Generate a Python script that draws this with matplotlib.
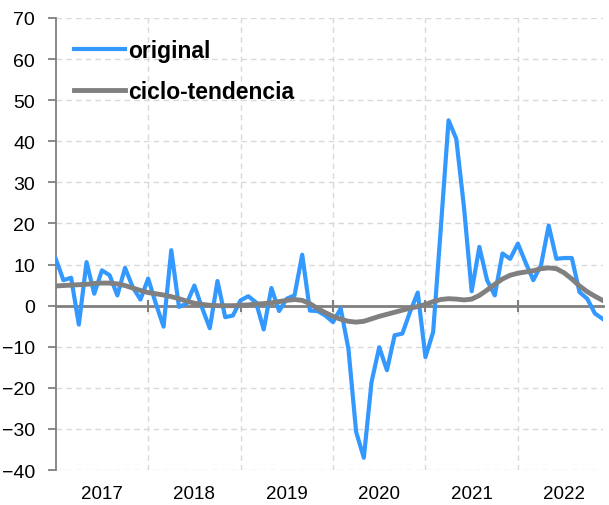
import numpy as np
import matplotlib.pyplot as plt

plt.rcParams.update({"font.family": ["Liberation Sans", "DejaVu Sans"], "font.size": 12})
BLUE = "#3399ff"; GREY = "#808080"; GRID = "#d9d9d9"

# monthly series, Jan 2017 - Dec 2022
years = ["2017", "2018", "2019", "2020", "2021", "2022"]
original = [
    11.4, 6.2, 6.8, -4.6, 10.6, 2.9, 8.6, 7.4, 2.5, 9.2, 4.5, 1.5,
    6.6, 0.5, -5.1, 13.5, -0.3, 0.5, 4.9, -0.5, -5.5, 6.0, -2.8, -2.4,
    1.3, 2.3, 0.8, -5.8, 4.3, -1.3, 1.7, 2.5, 12.4, -1.2, -1.3, -2.4,
    -4.0, -0.7, -10.5, -30.7, -37.0, -18.6, -10.1, -15.7, -7.2, -6.8, -1.5, 3.2,
    -12.5, -6.4, 19.0, 45.1, 40.6, 24.0, 3.5, 14.3, 6.2, 2.5, 12.7, 11.4,
    15.1, 10.5, 6.2, 9.8, 19.5, 11.4, 11.6, 11.6, 3.3, 1.7, -1.9, -3.2,
]
trend = [
    4.8, 4.9, 5.0, 5.1, 5.2, 5.4, 5.5, 5.5, 5.3, 4.9, 4.3, 3.7,
    3.2, 2.9, 2.6, 2.2, 1.7, 1.1, 0.6, 0.3, 0.1, 0.0, 0.0, 0.0,
    0.1, 0.2, 0.4, 0.5, 0.7, 1.0, 1.3, 1.5, 1.3, 0.5, -0.7, -1.7,
    -2.6, -3.3, -3.8, -4.0, -3.8, -3.2, -2.6, -2.1, -1.6, -1.1, -0.6, -0.2,
    0.3, 1.0, 1.5, 1.7, 1.6, 1.4, 1.6, 2.5, 3.8, 5.2, 6.5, 7.4,
    7.9, 8.2, 8.5, 9.0, 9.2, 9.0, 8.0, 6.5, 4.8, 3.4, 2.3, 1.3,
]

x = np.arange(len(original))
fig = plt.figure(figsize=(6.09, 5.06), dpi=100)
ax = fig.add_axes([0.0915, 0.069, 0.898, 0.8935])

ax.set_xlim(0, len(original) - 1)
ax.set_ylim(-40, 70)
ax.set_yticks(np.arange(-40, 71, 10))

# grid: dashed light grey, vertical lines at year boundaries
for yv in np.arange(-40, 71, 10):
    if yv != 0:
        ax.axhline(yv, color=GRID, ls=(0, (4, 3)), lw=1, zorder=0)
for k in range(1, len(years)):
    ax.axvline(12 * k, color=GRID, ls=(0, (4, 3)), lw=1, zorder=0)

ax.plot(x, original, color=BLUE, lw=3.0, label="original", zorder=3)
ax.plot(x, trend, color=GREY, lw=3.5, label="ciclo-tendencia", zorder=4)

# axis line at zero with year ticks
ax.spines[["top", "right"]].set_visible(False)
ax.spines["bottom"].set_position(("data", 0))
ax.spines["bottom"].set_color(GREY); ax.spines["bottom"].set_linewidth(2)
ax.spines["bottom"].set_zorder(2)
ax.spines["left"].set_color(GREY); ax.spines["left"].set_linewidth(1.3)
ax.set_xticks([12 * k for k in range(1, len(years))])
ax.tick_params(axis="x", direction="inout", length=9, width=1.5, color=GREY, labelbottom=False)
ax.tick_params(axis="y", direction="out", length=6, width=1.3, color=GREY, labelsize=14, pad=9)

for k, yr in enumerate(years):
    ax.text(12 * k + 6, -0.032, yr, transform=ax.get_xaxis_transform(),
            ha="center", va="top", fontsize=13.5)

leg = ax.legend(loc="upper left", frameon=False, prop={"weight": "bold", "size": 16.5},
                handlelength=2.2, handletextpad=0.15, labelspacing=0.8,
                bbox_to_anchor=(0.005, 0.99), borderaxespad=0.3)

fig.savefig("out.png", dpi=100)
